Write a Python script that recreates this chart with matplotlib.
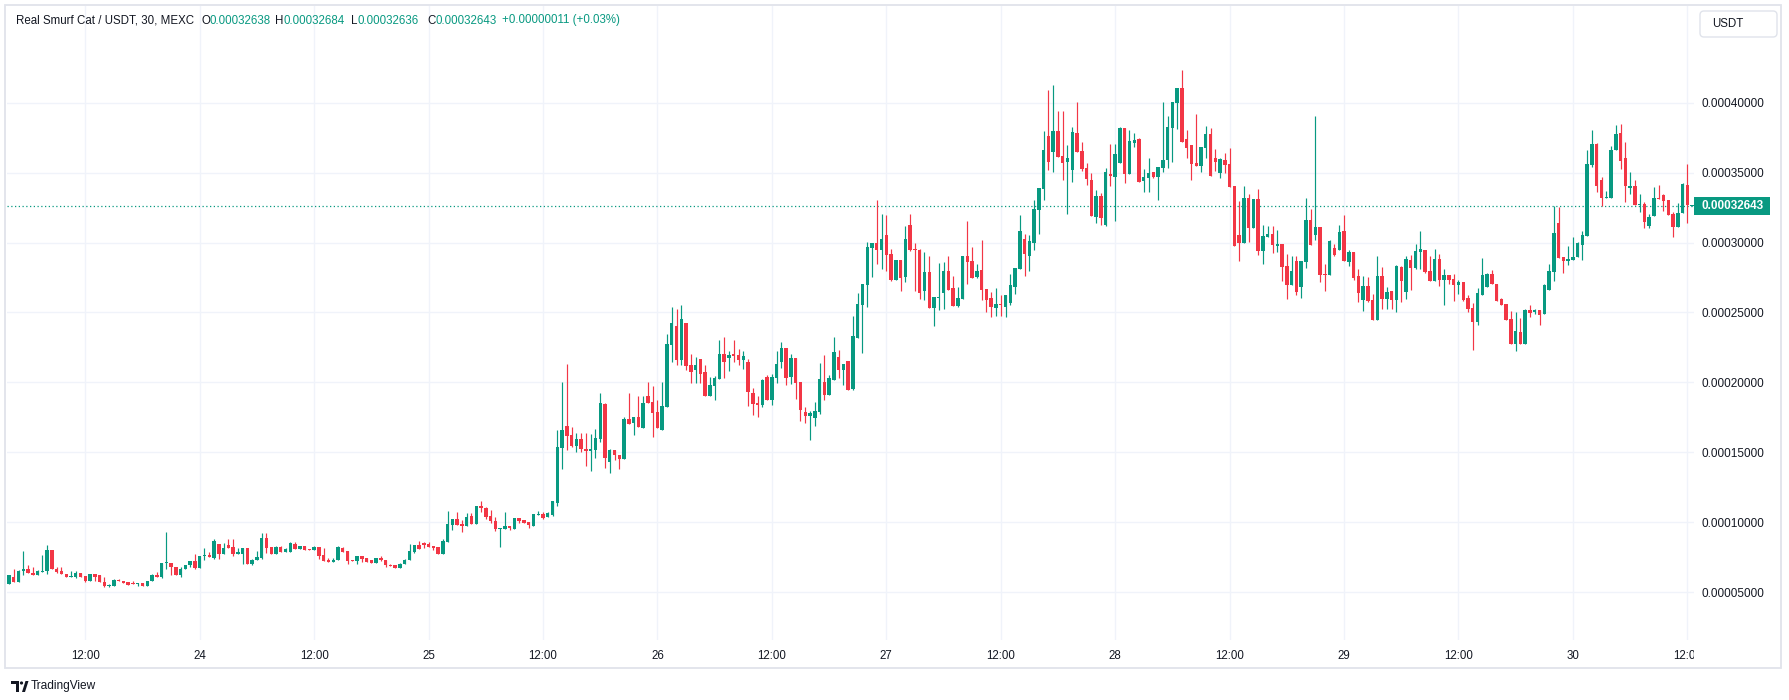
import numpy as np
import matplotlib
matplotlib.use("Agg")
import matplotlib.pyplot as plt
from matplotlib.patches import Rectangle, FancyBboxPatch, Circle, Polygon
from matplotlib.ticker import FuncFormatter
from matplotlib.transforms import Bbox, TransformedBbox

# prices in units of 1e-5 USDT, 30 min candles from 23rd 04:00
SCALE = 1e-5
opens = [
    5.55, 6.08, 5.69, 6.48, 6.67, 6.39, 6.20, 6.44, 6.48, 8.04,
    6.67, 6.48, 6.32, 6.08, 6.08, 6.39, 6.12, 5.77, 6.27, 6.24,
    5.74, 5.41, 5.41, 5.89, 5.81, 5.72, 5.67, 5.55, 5.67, 5.41,
    5.77, 6.24, 6.08, 7.06, 7.11, 6.82, 6.20, 6.63, 6.91, 7.25,
    6.72, 7.56, 7.68, 7.44, 8.47, 7.75, 8.33, 8.23, 7.75, 7.75,
    8.17, 7.02, 7.29, 7.45, 8.88, 8.24, 7.69, 8.24, 7.83, 7.90,
    8.45, 8.10, 8.31, 8.10, 8.02, 8.24, 7.67, 7.26, 7.12, 7.26,
    8.17, 7.95, 7.31, 7.19, 7.60, 7.45, 7.26, 7.05, 7.45, 7.31,
    6.95, 6.90, 6.69, 7.00, 7.26, 7.88, 8.38, 8.52, 8.45, 8.31,
    8.24, 7.74, 8.60, 9.81, 10.24, 9.88, 9.74, 10.45, 9.88, 11.17,
    10.99, 10.44, 10.08, 9.53, 9.53, 9.75, 9.48, 10.30, 10.15, 10.03,
    9.72, 10.49, 10.58, 10.39, 10.51, 11.39, 15.31, 16.88, 16.24, 15.45,
    15.95, 15.24, 15.09, 15.17, 15.95, 18.46, 14.31, 15.17, 14.81, 14.52,
    17.39, 17.10, 17.53, 16.74, 19.03, 18.60, 17.89, 16.60, 18.25, 22.68,
    24.05, 21.61, 24.26, 21.25, 20.89, 21.68, 20.75, 19.03, 19.75, 20.25,
    22.04, 21.71, 22.02, 21.95, 21.60, 21.45, 19.24, 18.52, 18.38, 20.38,
    18.74, 20.31, 21.45, 22.45, 20.38, 21.74, 20.02, 17.88, 17.60, 17.45,
    17.88, 20.02, 19.10, 20.17, 21.81, 20.88, 21.52, 19.52, 23.17, 25.52,
    26.95, 29.60, 29.95, 29.45, 30.52, 29.17, 27.31, 28.74, 27.52, 31.24,
    29.52, 29.45, 26.52, 27.88, 25.31, 26.02, 26.38, 27.95, 26.74, 25.45,
    25.95, 29.02, 28.67, 27.55, 28.02, 26.67, 26.02, 25.31, 25.60, 25.38,
    25.67, 26.81, 28.10, 30.24, 29.02, 29.95, 32.31, 33.81, 37.60, 36.45,
    37.95, 36.17, 35.74, 35.17, 37.81, 36.52, 35.31, 34.45, 31.81, 33.31,
    31.24, 34.88, 34.67, 35.67, 38.17, 34.88, 37.10, 37.38, 34.38, 34.60,
    35.02, 34.67, 35.31, 35.88, 38.17, 39.95, 41.02, 37.38, 36.95, 35.67,
    35.45, 36.74, 37.74, 36.02, 34.95, 35.88, 35.60, 34.02, 30.52, 29.95,
    33.17, 31.02, 33.10, 29.38, 30.38, 30.60, 29.74, 29.88, 28.31, 26.95,
    28.67, 26.81, 28.60, 31.60, 30.52, 31.10, 27.74, 27.67, 29.60, 29.45,
    30.81, 28.60, 29.31, 27.60, 25.88, 26.88, 25.88, 24.45, 27.60, 25.95,
    26.52, 25.88, 28.24, 26.45, 28.74, 28.17, 29.31, 29.45, 27.95, 27.24,
    28.81, 27.31, 27.67, 27.38, 26.95, 27.17, 26.02, 25.31, 24.31, 26.24,
    26.81, 27.74, 27.02, 25.95, 25.60, 24.52, 22.74, 23.60, 22.74, 25.17,
    25.02, 25.17, 24.88, 26.60, 27.88, 31.38, 28.95, 28.67, 28.74, 28.95,
    29.81, 30.45, 35.52, 37.02, 34.45, 33.17, 33.17, 36.60, 37.81, 36.02,
    33.88, 34.02, 32.67, 32.74, 31.17, 31.88, 33.17, 33.38, 33.02, 32.02,
    31.10, 32.10, 34.10, 32.638,
]
highs = [
    6.24, 6.67, 6.60, 7.97, 6.96, 6.82, 6.60, 7.63, 8.35, 8.04,
    6.77, 6.82, 6.32, 6.48, 6.48, 6.39, 6.17, 6.32, 6.32, 6.24,
    6.08, 5.60, 5.96, 5.96, 5.81, 5.72, 5.81, 5.65, 5.67, 5.81,
    6.32, 6.44, 7.11, 9.26, 7.11, 6.82, 6.77, 6.96, 7.25, 7.75,
    7.61, 8.18, 7.85, 8.76, 8.47, 8.52, 8.76, 8.83, 8.18, 8.18,
    8.17, 7.36, 7.95, 9.24, 9.24, 8.24, 8.31, 8.31, 8.17, 8.55,
    8.60, 8.31, 8.31, 8.10, 8.31, 8.24, 8.17, 7.45, 7.45, 8.31,
    8.24, 7.95, 7.31, 7.60, 7.60, 7.45, 7.31, 7.45, 7.60, 7.31,
    7.02, 6.90, 7.10, 7.38, 8.45, 8.38, 8.67, 8.60, 8.60, 8.31,
    8.24, 8.81, 10.81, 10.24, 10.74, 10.17, 10.67, 10.67, 11.17, 11.52,
    11.11, 10.87, 10.37, 9.60, 10.73, 9.75, 10.30, 10.30, 10.15, 10.03,
    10.58, 10.82, 10.73, 10.73, 11.54, 16.60, 20.06, 21.32, 16.81, 16.38,
    16.38, 16.38, 16.31, 16.67, 19.25, 18.53, 15.24, 15.17, 14.81, 17.53,
    19.25, 17.53, 19.03, 19.03, 20.03, 19.75, 18.75, 20.03, 23.47, 25.41,
    25.26, 25.55, 24.26, 22.04, 21.82, 21.68, 21.25, 20.39, 20.47, 23.04,
    23.26, 22.24, 23.02, 22.38, 22.24, 21.67, 19.60, 19.02, 20.24, 20.52,
    20.60, 22.24, 22.88, 22.45, 22.02, 21.74, 20.02, 18.24, 17.95, 18.60,
    21.38, 21.95, 20.52, 23.24, 22.31, 21.31, 21.52, 24.74, 26.38, 27.02,
    30.02, 29.95, 33.02, 32.02, 31.95, 29.52, 28.74, 28.74, 31.17, 32.02,
    29.95, 29.52, 29.31, 29.02, 26.10, 28.52, 28.60, 29.02, 27.60, 26.81,
    29.02, 31.52, 29.67, 28.45, 30.17, 26.67, 26.45, 26.74, 26.24, 26.24,
    27.74, 28.17, 31.95, 30.60, 30.52, 33.02, 33.88, 37.95, 40.88, 41.24,
    39.38, 39.38, 36.95, 38.24, 40.02, 37.17, 35.67, 34.95, 33.74, 33.52,
    35.31, 37.02, 37.02, 38.24, 38.17, 38.02, 37.81, 37.45, 35.24, 36.02,
    35.02, 35.38, 40.02, 39.02, 40.02, 41.02, 42.31, 38.02, 36.95, 39.17,
    36.81, 38.31, 38.17, 36.67, 36.02, 36.38, 36.74, 34.02, 32.95, 34.02,
    33.45, 33.10, 33.81, 31.24, 31.17, 31.17, 30.88, 29.88, 29.17, 29.02,
    29.02, 28.67, 33.17, 32.38, 39.02, 31.10, 28.45, 30.17, 29.88, 31.24,
    31.95, 29.45, 29.31, 28.10, 27.60, 27.52, 26.31, 29.02, 28.24, 26.81,
    26.52, 28.38, 28.31, 29.02, 29.10, 29.88, 30.81, 29.45, 29.02, 29.52,
    29.17, 28.10, 27.67, 27.74, 27.31, 27.17, 26.24, 25.67, 26.74, 28.88,
    27.81, 28.02, 27.02, 26.02, 25.60, 25.10, 25.02, 24.60, 25.24, 25.52,
    25.24, 25.17, 27.02, 28.45, 32.60, 32.52, 28.95, 29.74, 30.38, 30.02,
    30.81, 36.60, 38.02, 37.10, 34.67, 33.67, 36.88, 38.38, 38.45, 37.17,
    35.02, 34.45, 33.45, 32.88, 32.02, 33.95, 34.10, 33.45, 33.02, 32.17,
    32.81, 34.24, 35.60, 32.684,
]
lows = [
    5.55, 5.69, 5.69, 6.24, 6.34, 6.20, 6.20, 6.44, 6.29, 6.63,
    6.39, 6.29, 6.08, 6.08, 6.03, 6.08, 5.69, 5.77, 5.77, 5.69,
    5.34, 5.34, 5.41, 5.77, 5.65, 5.48, 5.55, 5.41, 5.41, 5.41,
    5.77, 6.08, 6.03, 6.63, 6.24, 6.20, 6.05, 6.63, 6.77, 6.63,
    6.72, 7.32, 7.49, 7.37, 7.39, 7.75, 8.16, 7.56, 7.75, 7.03,
    7.02, 6.95, 7.29, 7.38, 7.76, 7.69, 7.69, 7.83, 7.83, 7.90,
    8.10, 8.10, 8.02, 8.02, 8.02, 7.38, 7.19, 7.12, 7.12, 7.26,
    7.90, 6.98, 7.19, 6.98, 7.12, 7.12, 7.05, 7.05, 7.19, 6.76,
    6.83, 6.69, 6.69, 7.00, 7.26, 7.81, 8.10, 8.17, 8.24, 8.02,
    7.74, 7.74, 8.60, 9.45, 9.81, 9.31, 9.74, 9.88, 9.88, 10.74,
    10.20, 9.96, 9.39, 8.24, 9.53, 9.46, 9.48, 9.96, 9.94, 9.60,
    9.72, 10.49, 10.25, 10.39, 10.44, 11.18, 13.80, 15.17, 15.38, 15.02,
    15.02, 14.02, 13.66, 14.59, 15.74, 13.88, 13.52, 14.45, 13.80, 14.52,
    17.03, 16.24, 16.81, 16.74, 18.53, 16.10, 16.74, 16.60, 18.25, 21.47,
    21.25, 21.25, 20.89, 19.96, 19.96, 19.96, 19.03, 19.03, 18.75, 20.25,
    20.32, 20.81, 21.45, 21.24, 20.95, 18.31, 17.67, 17.52, 18.24, 18.74,
    18.38, 19.95, 21.02, 19.81, 19.88, 18.81, 17.24, 17.10, 15.88, 16.88,
    17.74, 18.74, 19.10, 20.17, 20.31, 19.81, 19.45, 19.45, 23.17, 22.10,
    25.38, 27.52, 28.45, 28.10, 27.95, 27.24, 27.31, 26.52, 27.17, 29.38,
    26.52, 25.95, 25.88, 25.31, 24.02, 25.17, 25.24, 26.60, 25.45, 25.38,
    25.95, 27.02, 27.48, 27.48, 25.88, 25.02, 24.67, 24.74, 24.74, 24.67,
    25.52, 26.31, 28.10, 27.60, 27.95, 29.45, 30.60, 33.02, 35.17, 35.02,
    36.10, 34.45, 32.02, 34.31, 36.45, 35.10, 34.10, 31.88, 31.38, 31.24,
    31.17, 34.02, 31.52, 35.67, 34.24, 34.88, 36.81, 34.31, 33.60, 33.60,
    34.60, 33.02, 35.02, 35.31, 35.74, 38.10, 37.17, 36.02, 34.45, 35.45,
    35.02, 36.02, 34.74, 35.10, 34.60, 34.95, 33.95, 29.74, 28.67, 29.95,
    30.02, 31.02, 29.10, 28.45, 30.38, 29.24, 29.31, 27.24, 25.95, 26.95,
    26.24, 26.02, 28.17, 29.81, 30.17, 27.17, 26.52, 27.67, 29.02, 29.45,
    28.67, 28.31, 27.31, 25.74, 25.10, 25.74, 24.45, 24.45, 25.24, 25.24,
    25.24, 25.02, 25.74, 25.95, 26.60, 28.10, 28.10, 27.81, 27.24, 27.24,
    26.88, 25.52, 27.02, 25.81, 26.31, 25.81, 25.02, 22.31, 24.10, 26.24,
    26.81, 27.02, 25.81, 25.52, 24.45, 22.74, 22.24, 22.74, 22.74, 24.67,
    24.88, 24.10, 24.88, 26.60, 27.24, 28.88, 27.81, 28.38, 28.74, 28.95,
    28.74, 30.45, 35.38, 33.60, 32.60, 33.17, 33.17, 36.60, 35.24, 32.88,
    33.45, 32.67, 32.17, 31.02, 31.02, 31.88, 33.10, 32.24, 31.95, 30.38,
    31.10, 32.10, 31.38, 32.636,
]
closes = [
    6.24, 5.69, 6.53, 6.67, 6.34, 6.20, 6.48, 6.48, 8.04, 6.63,
    6.44, 6.29, 6.08, 6.17, 6.39, 6.08, 5.77, 6.32, 6.08, 5.69,
    5.41, 5.53, 5.89, 5.77, 5.65, 5.48, 5.55, 5.65, 5.41, 5.81,
    6.24, 6.08, 7.11, 7.13, 6.77, 6.20, 6.67, 6.96, 7.25, 6.72,
    7.61, 7.68, 7.49, 8.68, 7.75, 8.18, 8.16, 7.75, 7.90, 8.18,
    7.02, 7.31, 7.52, 8.88, 8.17, 7.69, 8.24, 7.83, 8.05, 8.48,
    8.10, 8.31, 8.02, 8.02, 8.24, 7.60, 7.19, 7.12, 7.31, 8.24,
    7.90, 7.19, 7.19, 7.60, 7.38, 7.12, 7.05, 7.45, 7.26, 6.90,
    6.83, 6.69, 7.02, 7.31, 7.95, 8.38, 8.10, 8.38, 8.24, 8.17,
    7.74, 8.67, 9.88, 10.24, 9.81, 9.74, 10.38, 9.88, 11.17, 11.02,
    10.39, 10.08, 9.53, 9.60, 9.72, 9.58, 10.30, 10.08, 9.94, 9.79,
    10.58, 10.54, 10.30, 10.65, 11.49, 15.38, 16.60, 16.17, 15.45, 15.95,
    15.24, 15.09, 15.24, 16.03, 18.53, 14.59, 15.17, 14.81, 14.52, 17.39,
    17.03, 17.53, 16.81, 18.53, 18.53, 17.81, 16.74, 18.32, 22.76, 24.26,
    21.61, 24.55, 21.18, 20.75, 21.25, 20.61, 19.03, 19.82, 20.32, 22.04,
    21.47, 21.95, 21.88, 21.60, 21.88, 19.31, 18.45, 18.38, 20.17, 18.74,
    20.38, 21.31, 22.45, 20.31, 21.74, 19.95, 18.02, 17.60, 17.81, 17.95,
    20.24, 19.10, 20.31, 22.17, 20.88, 21.31, 19.45, 23.31, 25.60, 27.02,
    29.67, 29.95, 29.45, 30.24, 29.10, 27.31, 28.74, 27.45, 30.24, 29.45,
    29.45, 26.38, 27.88, 25.31, 26.10, 26.10, 27.95, 26.60, 25.45, 26.02,
    29.02, 28.62, 27.48, 27.95, 26.60, 25.88, 25.38, 25.60, 25.52, 26.24,
    26.95, 28.17, 30.81, 29.17, 30.10, 32.38, 33.88, 36.60, 35.74, 37.95,
    36.10, 35.67, 36.02, 37.88, 36.45, 35.24, 34.52, 31.88, 33.31, 31.74,
    35.02, 34.74, 36.31, 38.17, 34.88, 37.24, 37.31, 34.31, 34.67, 34.95,
    34.67, 35.38, 35.88, 38.24, 40.02, 41.02, 37.17, 36.74, 35.60, 35.45,
    36.81, 37.74, 34.74, 35.74, 35.95, 35.52, 33.95, 29.74, 29.95, 33.17,
    31.02, 33.10, 29.38, 30.45, 30.60, 29.81, 29.88, 28.24, 26.95, 27.95,
    26.45, 28.67, 31.60, 29.81, 31.10, 27.67, 27.67, 30.10, 29.10, 30.74,
    28.67, 29.31, 27.45, 26.38, 26.88, 25.81, 24.45, 27.60, 25.95, 26.45,
    25.88, 28.31, 27.24, 28.81, 28.17, 29.38, 29.52, 27.88, 27.24, 28.81,
    27.31, 27.67, 27.31, 26.95, 27.17, 25.88, 25.24, 24.31, 26.38, 27.67,
    27.74, 27.02, 25.81, 25.52, 24.45, 22.74, 23.67, 22.74, 25.17, 24.95,
    25.17, 24.81, 26.95, 27.95, 30.67, 28.88, 28.67, 28.81, 28.95, 29.95,
    30.52, 35.60, 37.02, 34.02, 33.17, 33.24, 36.60, 37.74, 35.81, 34.02,
    34.02, 32.67, 32.74, 31.45, 31.81, 33.17, 33.10, 32.95, 31.95, 31.10,
    32.10, 34.17, 32.67, 32.643,
]

tick_idx = list(range(16, 354, 24))
tick_labels = ["12:00", "24", "12:00", "25", "12:00", "26", "12:00", "27",
               "12:00", "28", "12:00", "29", "12:00", "30", "12:00"]
price_ticks = [5, 10, 15, 20, 25, 30, 35, 40]

UP = "#089981"
DOWN = "#F23645"
TXT = "#131722"
GRID = "#f0f3fa"

plt.rcParams['font.family'] = ['Liberation Sans', 'DejaVu Sans']

W, H = 1789, 700
fig = plt.figure(figsize=(W / 100, H / 100), dpi=100)
fig.patch.set_facecolor("white")

# plot area in pixels: x 7..1694, y 6..640
ax = fig.add_axes([7 / W, (H - 640) / H, (1694 - 7) / W, (640 - 6) / H], zorder=1)
ax.set_facecolor("white")

o = np.array(opens) * SCALE
h = np.array(highs) * SCALE
l = np.array(lows) * SCALE
c = np.array(closes) * SCALE
idx = np.arange(len(o))
colors = np.where(c >= o, UP, DOWN)

body_bottom = np.minimum(o, c)
body_h = np.maximum(np.abs(c - o), 0.07 * SCALE)

ax.vlines(idx, l, h, colors=colors, linewidth=0.85, zorder=2)
ax.bar(idx, body_h, width=0.72, bottom=body_bottom, color=colors, linewidth=0, zorder=3)

last = c[-1]
ax.axhline(last, color=UP, linestyle=(0, (1, 2)), linewidth=0.9, zorder=1.5)

ax.set_xlim(-0.42, 353.4)
ax.set_ylim(1.57 * SCALE, 46.92 * SCALE)

ax.set_xticks(tick_idx)
ax.set_xticklabels(tick_labels)
ax.set_yticks([p * SCALE for p in price_ticks])
ax.yaxis.set_major_formatter(FuncFormatter(lambda v, _: f"{v:.8f}"))
ax.yaxis.tick_right()
ax.grid(True, color=GRID, linewidth=1)
ax.set_axisbelow(True)
for s in ax.spines.values():
    s.set_visible(False)
ax.tick_params(axis='y', length=0, pad=5.5, labelsize=8.5, labelcolor=TXT)
ax.tick_params(axis='x', length=0, pad=7, labelsize=8.3, labelcolor=TXT)

# clip time labels at the price scale edge (last one shows as "12:0")
clip = TransformedBbox(Bbox([[0, 0], [1694 / W, 1]]), fig.transFigure)
for t in ax.xaxis.get_major_ticks():
    t.label1.set_clip_box(clip)
    t.label1.set_clip_on(True)

# overlay in pixel coords for the frame, legend line and labels
deco = fig.add_axes([0, 0, 1, 1], zorder=5)
deco.set_xlim(0, W)
deco.set_ylim(H, 0)
deco.axis('off')
deco.patch.set_alpha(0)

deco.add_patch(Rectangle((5, 5), 1776, 663, fill=False, ec="#e0e3eb", lw=1.3))

hdr_y = 20.5
fs = 8.3
deco.text(16, hdr_y, "Real Smurf Cat / USDT, 30, MEXC", color=TXT, fontsize=fs, va='center')
parts = [(201, "O", TXT), (210, "0.00032638", UP),
         (275, "H", TXT), (284, "0.00032684", UP),
         (351, "L", TXT), (358, "0.00032636", UP),
         (427, "C", TXT), (435, "0.00032643", UP),
         (502, "+0.00000011 (+0.03%)", UP)]
for x, s, col in parts:
    deco.text(x, hdr_y, s, color=col, fontsize=fs, va='center')

# currency box
deco.add_patch(FancyBboxPatch((1700, 11), 77, 26, boxstyle="round,pad=0,rounding_size=4",
                              fc="white", ec="#e0e3eb", lw=1))
deco.text(1712, 24, "USDT", color=TXT, fontsize=8.3, va='center')

# last price label
py = H - ax.transData.transform((0, last))[1]
deco.add_patch(Rectangle((1694, py - 9), 76, 18, fc=UP, ec="none"))
deco.text(1701, py, f"{last:.8f}", color="white", fontsize=8.5, fontweight='bold', va='center')

# TradingView logo
deco.add_patch(Polygon([(11, 681), (19, 681), (19, 692), (16, 692), (16, 684), (11, 684)],
                       closed=True, fc=TXT, ec="none"))
deco.add_patch(Circle((21.5, 683), 1.6, fc=TXT, ec="none"))
deco.add_patch(Polygon([(22, 692), (25.5, 681), (28.5, 681), (25, 692)], closed=True, fc=TXT, ec="none"))
deco.text(31, 686.5, "TradingView", color=TXT, fontsize=8.6, va='center')

fig.savefig("out.png", dpi=100)
